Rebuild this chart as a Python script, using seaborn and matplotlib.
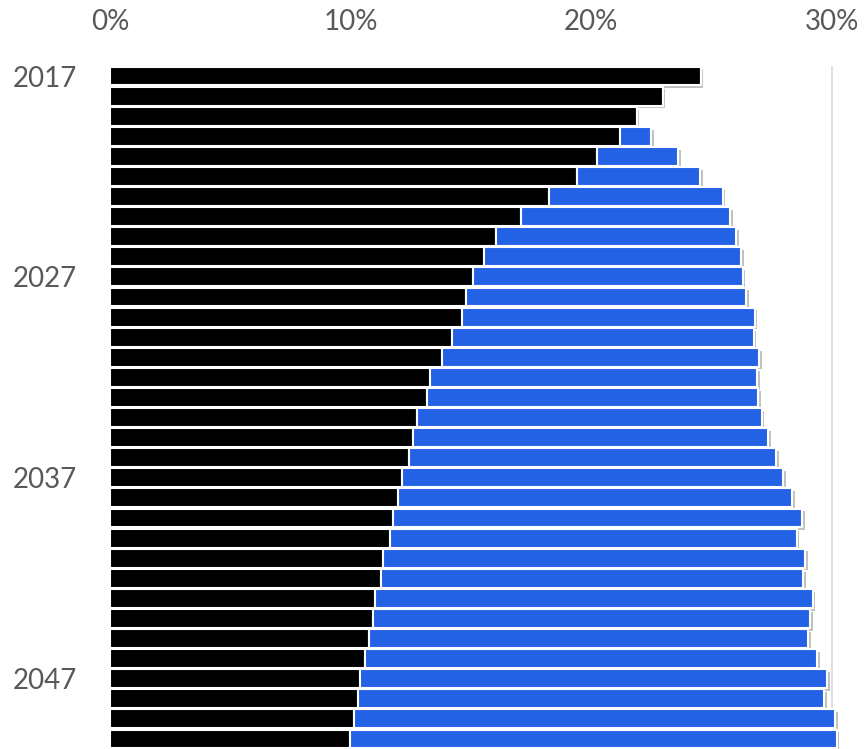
import numpy as np
import pandas as pd
import matplotlib
matplotlib.use("Agg")
import matplotlib.pyplot as plt
import matplotlib.patheffects as pe
import seaborn as sns

# --- data (percent) ---
years = list(range(2017, 2051))
black_share = [24.54, 22.96, 21.88, 21.19, 20.25, 19.42, 18.22, 17.08, 16.05, 15.55,
               15.07, 14.79, 14.61, 14.21, 13.81, 13.29, 13.16, 12.74, 12.60, 12.42,
               12.13, 11.95, 11.77, 11.63, 11.34, 11.25, 11.02, 10.94, 10.77, 10.59,
               10.40, 10.29, 10.14, 9.98]
total_share = [24.54, 22.96, 21.88, 22.48, 23.61, 24.51, 25.45, 25.76, 26.01, 26.21,
               26.28, 26.44, 26.78, 26.74, 26.98, 26.88, 26.93, 27.07, 27.34, 27.67,
               27.95, 28.33, 28.74, 28.53, 28.87, 28.78, 29.19, 29.08, 28.99, 29.39,
               29.80, 29.68, 30.11, 30.19]
blue_share = [t - b for t, b in zip(total_share, black_share)]
shown_years = ["2017", "2027", "2037", "2047"]
x_ticks = [0, 10, 20, 30]

df = pd.DataFrame({"year": [str(y) for y in years],
                   "black": black_share, "blue": blue_share})

sns.set_style("white")
plt.rcParams["font.family"] = ["Lato", "DejaVu Sans"]

fig = plt.figure(figsize=(8.64, 7.49), dpi=100)
ax = fig.add_axes([110 / 864, 0.0, 1 - 110 / 864, 1 - 66 / 749])

shadow = [pe.SimplePatchShadow(offset=(2, -2), shadow_rgbFace="#666666", alpha=0.4), pe.Normal()]

sns.barplot(data=df, x="black", y="year", orient="h", color="#000000",
            width=0.94, edgecolor="white", linewidth=1.5, saturation=1, ax=ax)
sns.barplot(data=df, x="blue", y="year", orient="h", color="#2462E5",
            width=0.94, edgecolor="white", linewidth=1.5, saturation=1,
            left=df["black"], ax=ax)
for p in ax.patches:
    p.set_path_effects(shadow)

# gridlines behind the bars
ax.set_axisbelow(True)
ax.grid(axis="x", color="#d9d9d9", linewidth=1.2)
ax.grid(axis="y", visible=False)

ax.set_xlim(0, 754 / 24.07)
ax.set_ylim(len(years) - 0.5, -0.5)

ax.xaxis.tick_top()
ax.set_xticks(x_ticks)
ax.set_xticklabels([f"{t}%" for t in x_ticks])
ax.set_yticks([years.index(int(y)) for y in shown_years])
ax.set_yticklabels(shown_years)
ax.tick_params(axis="x", length=0, pad=22, labelsize=20, labelcolor="#595959")
ax.tick_params(axis="y", length=0, pad=24, labelsize=20, labelcolor="#595959")
ax.set_xlabel("")
ax.set_ylabel("")
for s in ax.spines.values():
    s.set_visible(False)

fig.savefig("out.png", dpi=100)
